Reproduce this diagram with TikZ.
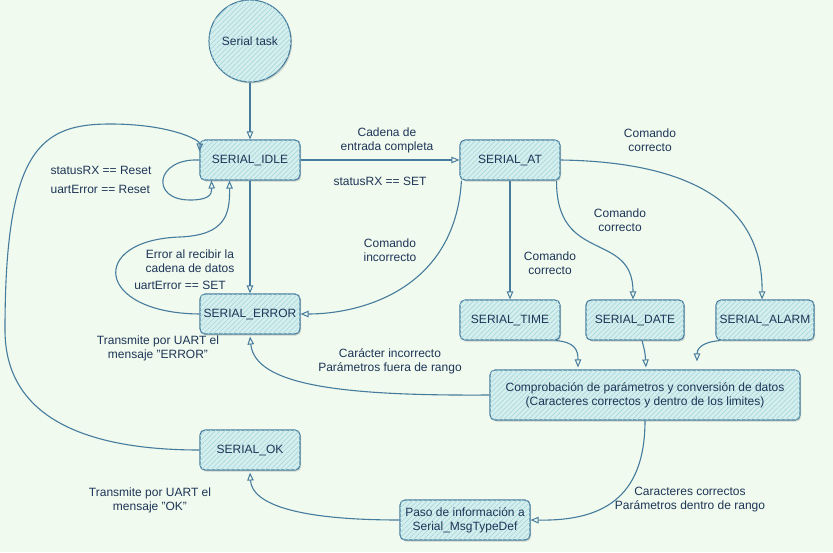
\documentclass[tikz,border=0pt]{standalone}
\usepackage{fontspec}
\setmainfont{Liberation Sans}
\usetikzlibrary{arrows.meta,patterns.meta,shadows}
\definecolor{bg}{HTML}{F1FAEE}
\definecolor{strokec}{HTML}{457B9D}
\definecolor{fillc}{HTML}{A8DADC}
\definecolor{fillbase}{HTML}{D6EEEE}
\definecolor{fontc}{HTML}{1D3557}
\tikzset{
  box/.style={rectangle, rounded corners=5pt, draw=strokec, line width=1.1pt,
    fill=fillbase, postaction={pattern={Lines[angle=45,distance=3.5pt,line width=0.7pt]}, pattern color=fillc},
    drop shadow={shadow xshift=1.2pt, shadow yshift=-1.5pt, opacity=0.15, fill=black},
    minimum width=100pt, minimum height=40pt, inner sep=2pt, align=center, text=fontc,
    font=\fontsize{12}{14}\selectfont},
  lbl/.style={text=fontc, align=center, inner sep=0pt, font=\fontsize{12}{14}\selectfont},
  conn/.style={draw=strokec, line width=1.1pt, -{Triangle[open,length=8pt,width=6.5pt,line width=1pt]}},
}
\begin{document}
\begin{tikzpicture}[x=1pt,y=-1pt]
\fill[bg] (0,0) rectangle (833,552);
\useasboundingbox (0,0) rectangle (833,552);
% nodes
\node[box, circle, minimum size=82pt] (task) at (250,41) {Serial task};
\node[box] (IDLE) at (250,160) {SERIAL\_IDLE};
\node[box] (ERROR) at (250,314) {SERIAL\_ERROR};
\node[box] (AT) at (510,160) {SERIAL\_AT};
\node[box] (TIME) at (510,320) {SERIAL\_TIME};
\node[box, minimum width=98pt] (DATE) at (635,320) {SERIAL\_DATE};
\node[box, minimum width=98pt] (ALARM) at (765,320) {SERIAL\_ALARM};
\node[box, minimum width=310pt, minimum height=50pt] (Comp) at (645,395) {Comprobación de parámetros y conversión de datos\\(Caracteres correctos y dentro de los limites)};
\node[box] (OK) at (250,450) {SERIAL\_OK};
\node[box, minimum width=130pt] (Paso) at (465,520) {Paso de información a\\Serial\_MsgTypeDef};
% labels
\node[lbl] (l1) at (387,140) {Cadena de\\entrada completa};
\node[lbl] (l2) at (380,181) {statusRX == SET};
\node[lbl, align=left] (l3) at (101,180) {statusRX == Reset\\[5pt]uartError == Reset};
\node[lbl] (l4) at (190,261) {Error al recibir la\\cadena de datos};
\node[lbl] (l5) at (180,285) {uartError == SET};
\node[lbl] (l6) at (390,250) {Comando\\incorrecto};
\node[lbl] (l7) at (550,263) {Comando\\correcto};
\node[lbl] (l8) at (620,220) {Comando\\correcto};
\node[lbl] (l9) at (650,140) {Comando\\correcto};
\node[lbl] (l10) at (158,348) {Transmite por UART el\\mensaje "ERROR"};
\node[lbl] (l11) at (390,361) {Carácter incorrecto\\Parámetros fuera de rango};
\node[lbl] (l12) at (150,500) {Transmite por UART el\\mensaje "OK"};
\node[lbl] (l13) at (690,500) {Caracteres correctos\\Parámetros dentro de rango};
% connectors
\draw[conn] (task.south) -- (IDLE.north);
\draw[conn] (IDLE.east) -- (AT.west);
\draw[conn] (IDLE.south) -- (ERROR.north);
\draw[conn] (IDLE.west) .. controls (155,158) and (150,200) .. (190,200) .. controls (208,200) and (212,195) .. ([xshift=12pt]IDLE.south west);
\draw[conn] (ERROR.west) .. controls (95,313) and (88,240) .. (180,237) .. controls (225,235) and (230,215) .. ([xshift=30pt]IDLE.south west);
\draw[conn] (AT.south) -- (TIME.north);
\draw[conn] ([xshift=2pt]AT.south west) .. controls (455,290) and (360,314) .. (ERROR.east);
\draw[conn] ([xshift=-4pt]AT.south east) .. controls (556,265) and (633,230) .. ([xshift=-2pt]DATE.north);
\draw[conn] (AT.east) .. controls (700,162) and (763,210) .. ([xshift=-3pt]ALARM.north);
\draw[conn] ([xshift=-5pt]TIME.south east) .. controls (575,342) and (578,350) .. ([xshift=-67pt,yshift=2pt]Comp.north);
\draw[conn] ([xshift=7pt]DATE.south) .. controls (645,352) .. ([xshift=1pt,yshift=2pt]Comp.north);
\draw[conn] ([xshift=5pt]ALARM.south west) .. controls (700,342) and (697,350) .. ([xshift=52pt,yshift=8pt]Comp.north);
\draw[conn] (Comp.west) .. controls (340,396) and (255,385) .. ([yshift=-2pt]ERROR.south);
\draw[conn] (Comp.south) .. controls (645,500) and (600,521) .. (Paso.east);
\draw[conn] (Paso.west) .. controls (300,520) and (252,505) .. ([yshift=-2pt]OK.south);
\draw[conn] (OK.west) .. controls (90,450) and (5,420) .. (5,330) .. controls (5,150) and (40,124) .. (110,124) .. controls (170,124) and (200,140) .. ([yshift=-12pt]IDLE.north west);
\end{tikzpicture}
\end{document}
